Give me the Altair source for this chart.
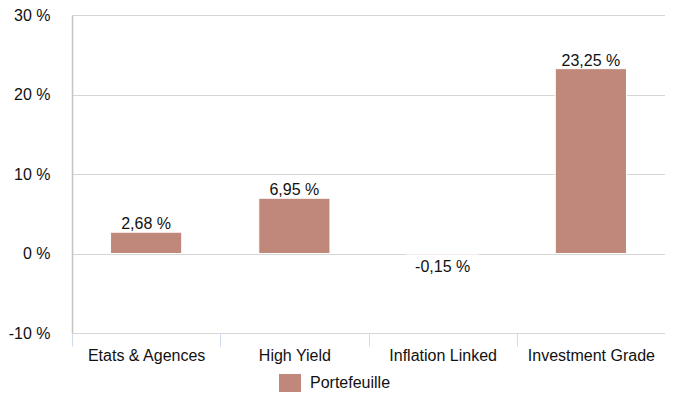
import altair as alt
import pandas as pd

categories = ["Etats & Agences", "High Yield", "Inflation Linked", "Investment Grade"]
values = [2.68, 6.95, -0.15, 23.25]
series_name = "Portefeuille"
y_ticks = [-10, 0, 10, 20, 30]

df = pd.DataFrame({
    "cat": categories,
    "val": values,
    "serie": [series_name] * len(categories),
    "label": [f"{v:.2f}".replace(".", ",") + " %" for v in values],
})

FONT = "Liberation Sans"
BAR = "#BF887A"
FS = 16

x_enc = alt.X(
    "cat:N",
    sort=categories,
    title=None,
    scale=alt.Scale(paddingInner=0, paddingOuter=0),
    axis=alt.Axis(
        labelAngle=0, labelFontSize=FS, labelFont=FONT, labelColor="#111",
        tickBand="extent", tickSize=13, tickColor="#cddcf0", tickWidth=1,
        domain=False, grid=False, labelPadding=1,
    ),
)
y_scale = alt.Scale(domain=[-10, 30], nice=False)

bars = alt.Chart(df).mark_bar(
    width=alt.RelativeBandSize(0.48), stroke="white", strokeWidth=1
).encode(
    x=x_enc,
    y=alt.Y(
        "val:Q", scale=y_scale, title=None,
        axis=alt.Axis(
            values=y_ticks, labelExpr="datum.value + ' %'", labelFontSize=FS,
            labelFont=FONT, labelColor="#111", ticks=False, labelPadding=22,
            domainColor="#c4c4c4", gridColor="#d6d6d6", domainWidth=1.5,
        ),
    ),
    color=alt.Color(
        "serie:N", scale=alt.Scale(domain=[series_name], range=[BAR]),
        legend=alt.Legend(
            title=None, orient="none", legendX=207, legendY=357,
            symbolType="M-1,-0.818H1V0.818H-1Z", symbolSize=484,
            symbolStrokeWidth=0, labelFontSize=FS, labelFont=FONT,
            labelColor="#111", labelOffset=9,
        ),
    ),
)

pos_labels = alt.Chart(df).transform_filter("datum.val >= 0").mark_text(
    baseline="alphabetic", dy=-3, fontSize=FS, font=FONT, color="#111"
).encode(x=alt.X("cat:N", sort=categories), y=alt.Y("val:Q", scale=y_scale), text="label:N")

neg_labels = alt.Chart(df).transform_filter("datum.val < 0").mark_text(
    baseline="top", dy=4, fontSize=FS, font=FONT, color="#111"
).encode(x=alt.X("cat:N", sort=categories), y=alt.Y("val:Q", scale=y_scale), text="label:N")

chart = alt.layer(bars, pos_labels, neg_labels).properties(
    width=593, height=318,
    autosize=alt.AutoSizeParams(type="none"),
    padding={"left": 64, "top": 7, "right": 0, "bottom": 59},
).configure_view(stroke=None)

chart.save("out.html", embed_options={"renderer": "svg", "actions": False})
